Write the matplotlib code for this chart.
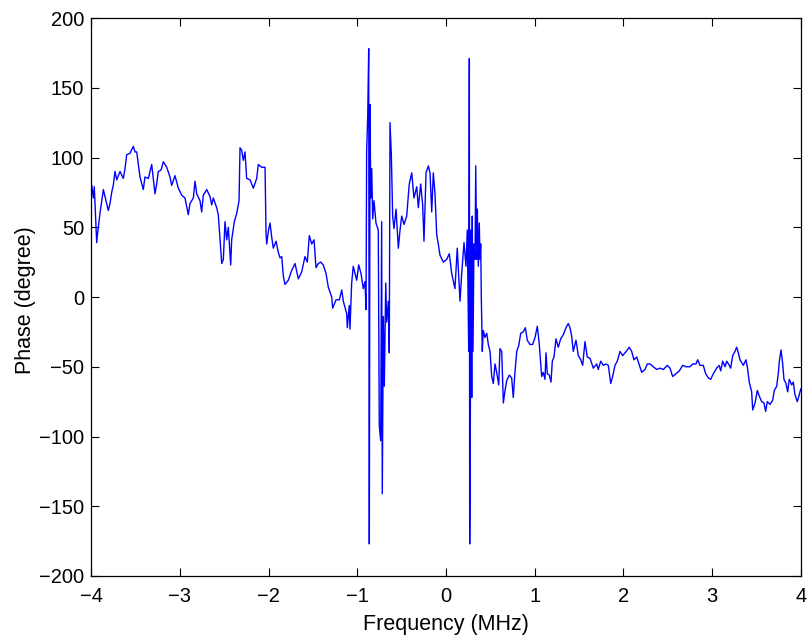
import matplotlib
matplotlib.use("Agg")
import matplotlib.pyplot as plt

# frequency (MHz) and phase (degree)
freq = [-4.000, -3.992, -3.974, -3.963, -3.936, -3.925, -3.899, -3.861, -3.842, -3.805,
        -3.786, -3.767, -3.749, -3.730, -3.710, -3.673, -3.636, -3.617, -3.598, -3.561,
        -3.523, -3.504, -3.485, -3.448, -3.411, -3.392, -3.354, -3.316, -3.279, -3.260,
        -3.242, -3.211, -3.185, -3.147, -3.110, -3.091, -3.054, -3.016, -2.978, -2.941,
        -2.904, -2.885, -2.847, -2.828, -2.809, -2.772, -2.753, -2.735, -2.696, -2.659,
        -2.640, -2.622, -2.584, -2.566, -2.546, -2.527, -2.509, -2.490, -2.471, -2.453,
        -2.426, -2.415, -2.385, -2.358, -2.332, -2.321, -2.302, -2.284, -2.265, -2.246,
        -2.208, -2.171, -2.133, -2.115, -2.077, -2.039, -2.028, -2.020, -2.002, -1.983,
        -1.964, -1.946, -1.915, -1.890, -1.870, -1.851, -1.833, -1.814, -1.777, -1.739,
        -1.701, -1.664, -1.626, -1.589, -1.563, -1.540, -1.513, -1.487, -1.465, -1.439,
        -1.412, -1.383, -1.352, -1.326, -1.288, -1.277, -1.239, -1.202, -1.175, -1.157,
        -1.119, -1.112, -1.090, -1.082, -1.063, -1.045, -1.025, -1.006, -0.984, -0.958,
        -0.932, -0.913, -0.901, -0.894, -0.882, -0.871, -0.864, -0.856, -0.848, -0.837,
        -0.826, -0.811, -0.789, -0.763, -0.752, -0.736, -0.725, -0.718, -0.706, -0.695,
        -0.679, -0.668, -0.650, -0.639, -0.631, -0.616, -0.601, -0.586, -0.563, -0.537,
        -0.518, -0.499, -0.473, -0.443, -0.414, -0.386, -0.361, -0.330, -0.312, -0.285,
        -0.263, -0.248, -0.225, -0.199, -0.180, -0.161, -0.143, -0.124, -0.105, -0.087,
        -0.068, -0.030, 0.008, 0.037, 0.064, 0.101, 0.127, 0.158, 0.177, 0.203,
        0.225, 0.240, 0.256, 0.263, 0.267, 0.274, 0.282, 0.290, 0.296, 0.304,
        0.315, 0.327, 0.335, 0.346, 0.353, 0.364, 0.375, 0.383, 0.391, 0.398,
        0.409, 0.420, 0.439, 0.459, 0.477, 0.496, 0.515, 0.533, 0.552, 0.571,
        0.594, 0.608, 0.628, 0.646, 0.665, 0.684, 0.713, 0.740, 0.758, 0.777,
        0.797, 0.819, 0.842, 0.871, 0.894, 0.916, 0.946, 0.977, 1.003, 1.029,
        1.051, 1.078, 1.096, 1.115, 1.127, 1.141, 1.164, 1.183, 1.198, 1.217,
        1.239, 1.265, 1.292, 1.322, 1.352, 1.378, 1.397, 1.416, 1.434, 1.465,
        1.491, 1.518, 1.540, 1.566, 1.592, 1.623, 1.660, 1.698, 1.716, 1.743,
        1.772, 1.803, 1.829, 1.856, 1.878, 1.904, 1.930, 1.961, 1.991, 2.017,
        2.043, 2.065, 2.092, 2.118, 2.149, 2.175, 2.205, 2.242, 2.268, 2.299,
        2.336, 2.374, 2.411, 2.448, 2.494, 2.524, 2.554, 2.592, 2.629, 2.667,
        2.704, 2.749, 2.780, 2.817, 2.836, 2.862, 2.899, 2.926, 2.956, 2.983,
        3.012, 3.050, 3.079, 3.095, 3.118, 3.144, 3.163, 3.192, 3.208, 3.230,
        3.256, 3.275, 3.294, 3.313, 3.350, 3.380, 3.395, 3.417, 3.444, 3.456,
        3.482, 3.508, 3.530, 3.557, 3.583, 3.602, 3.620, 3.651, 3.681, 3.699,
        3.726, 3.744, 3.756, 3.775, 3.794, 3.808, 3.831, 3.850, 3.868, 3.895,
        3.913, 3.932, 3.958, 3.977, 3.997]

phase = [78, 80, 71, 79, 39, 46, 60, 77, 72, 62,
         67, 75, 80, 90, 84, 90, 85, 92, 102, 103,
         108, 104, 104, 86, 77, 86, 85, 95, 74, 81,
         90, 91, 97, 93, 86, 80, 87, 78, 73, 71,
         59, 67, 71, 83, 74, 69, 61, 73, 77, 72,
         66, 71, 64, 59, 41, 24, 27, 54, 41, 50,
         23, 41, 54, 60, 69, 107, 105, 98, 104, 85,
         84, 78, 85, 95, 93, 93, 46, 38, 47, 53,
         43, 35, 40, 32, 28, 29, 15, 9, 12, 19,
         24, 13, 18, 29, 25, 44, 38, 41, 21, 24,
         25, 23, 17, 7, 0, -8, -2, -2, 5, -3,
         -12, -22, -6, -23, 10, 22, 17, 12, 23, 17,
         6, 11, -9, 105, 130, 178, -177, 138, 71, 92,
         56, 69, 53, 48, -92, -103, 54, -141, -14, -64,
         10, -18, -3, -40, 125, 102, 58, 49, 63, 35,
         48, 58, 52, 58, 81, 89, 71, 79, 64, 81,
         66, 40, 89, 94, 89, 61, 89, 74, 45, 38,
         30, 25, 27, 31, 17, 6, 35, -3, 17, 39,
         22, 48, -39, 171, -177, -90, 48, -72, 58, -39,
         38, 27, 94, 27, 63, 22, 53, 27, 38, -1,
         -39, -24, -29, -26, -34, -39, -57, -62, -48, -54,
         -63, -37, -39, -76, -67, -60, -56, -58, -72, -54,
         -39, -35, -26, -25, -22, -31, -34, -34, -29, -21,
         -34, -57, -54, -59, -40, -55, -56, -61, -46, -43,
         -30, -36, -30, -27, -22, -19, -22, -28, -39, -31,
         -42, -45, -49, -32, -43, -44, -51, -48, -52, -46,
         -49, -48, -49, -62, -57, -49, -46, -39, -42, -40,
         -38, -36, -39, -45, -43, -48, -54, -52, -48, -48,
         -50, -52, -51, -52, -49, -51, -57, -55, -53, -49,
         -50, -50, -48, -48, -45, -49, -49, -55, -58, -59,
         -55, -51, -49, -53, -46, -50, -46, -49, -51, -42,
         -39, -36, -40, -45, -49, -45, -50, -61, -68, -81,
         -76, -67, -71, -75, -76, -82, -75, -77, -74, -67,
         -64, -55, -46, -38, -48, -59, -62, -68, -59, -63,
         -61, -70, -75, -71, -66]

xticks = [-4, -3, -2, -1, 0, 1, 2, 3, 4]
yticks = [-200, -150, -100, -50, 0, 50, 100, 150, 200]

plt.rcParams['font.family'] = ['Liberation Sans', 'DejaVu Sans']

fig = plt.figure(figsize=(8.09, 6.43), dpi=100)
ax = fig.add_axes([0.1125, 0.1042, 0.8776, 0.8678])
ax.plot(freq, phase, color=(0, 0, 1), linewidth=1.0)

ax.set_xlim(-4, 4)
ax.set_ylim(-200, 200)
ax.set_xticks(xticks)
ax.set_yticks(yticks)
ax.tick_params(direction='in', length=6, width=0.8, top=True, right=True, labelsize=14.5)
ax.tick_params(axis='x', pad=8)
ax.tick_params(axis='y', pad=5)
for s in ax.spines.values():
    s.set_linewidth(0.9)
ax.set_xlabel("Frequency (MHz)", fontsize=15.5)
ax.set_ylabel("Phase (degree)", fontsize=15.5)
ax.xaxis.set_label_coords(0.5, -0.068)
ax.yaxis.set_label_coords(-0.078, 0.495)

fig.savefig("out.png", dpi=100)
